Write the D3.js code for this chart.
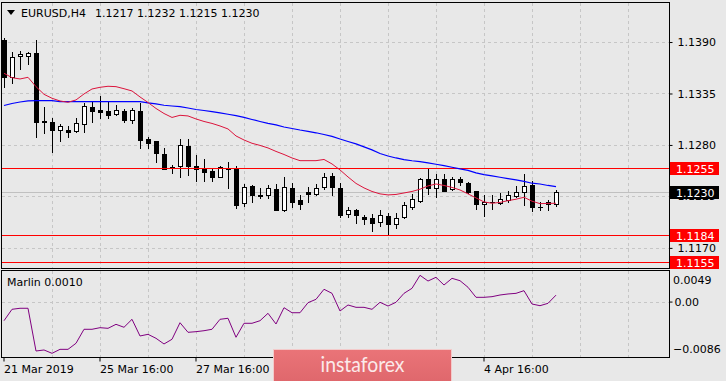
<!DOCTYPE html>
<html>
<head>
    <meta charset="utf-8" />
    <style>
        body { margin: 0; background: #e8e8e8; }
        svg { display: block; font-family: "DejaVu Sans", sans-serif; font-size: 11px; }
    </style>
</head>
<body>
    <svg></svg>
    <script src="https://cdnjs.cloudflare.com/ajax/libs/d3/7.8.5/d3.min.js"></script>
    <script>
        let width = 726,
            height = 381;

        // EURUSD H4 bars, first bar 21 Mar 2019 16:00
        let open = [1.1392, 1.1353, 1.1375, 1.1375, 1.1378, 1.1306, 1.1304, 1.1296, 1.1296, 1.1295,
            1.1302, 1.1321, 1.1317, 1.1316, 1.1313, 1.1316, 1.1307, 1.1316, 1.1286, 1.1284,
            1.1270, 1.1256, 1.1258, 1.1279, 1.1258, 1.1254, 1.1252, 1.1246, 1.1255, 1.1254,
            1.1218, 1.1236, 1.1225, 1.1227, 1.1233, 1.1210, 1.1234, 1.1221, 1.1230, 1.1228,
            1.1235, 1.1247, 1.1234, 1.1206, 1.1211, 1.1203, 1.1202, 1.1198, 1.1204, 1.1195,
            1.1203, 1.1214, 1.1220, 1.1244, 1.1234, 1.1244, 1.1233, 1.1244, 1.1239, 1.1231,
            1.1217, 1.1219, 1.1218, 1.1221, 1.1225, 1.1230, 1.1237, 1.1214, 1.1219, 1.1217];
        let high = [1.1394, 1.1379, 1.1380, 1.1379, 1.1392, 1.1321, 1.1309, 1.1302, 1.1300, 1.1309,
            1.1325, 1.1326, 1.1332, 1.1326, 1.1323, 1.1318, 1.1319, 1.1325, 1.1289, 1.1284,
            1.1277, 1.1259, 1.1286, 1.1286, 1.1269, 1.1265, 1.1254, 1.1258, 1.1262, 1.1258,
            1.1238, 1.1237, 1.1234, 1.1237, 1.1238, 1.1246, 1.1239, 1.1226, 1.1235, 1.1238,
            1.1250, 1.1250, 1.1239, 1.1214, 1.1212, 1.1205, 1.1206, 1.1211, 1.1207, 1.1207,
            1.1219, 1.1228, 1.1245, 1.1254, 1.1249, 1.1249, 1.1246, 1.1246, 1.1240, 1.1231,
            1.1226, 1.1226, 1.1229, 1.1231, 1.1236, 1.1249, 1.1242, 1.1219, 1.1221, 1.1232];
        let low = [1.1342, 1.1346, 1.1361, 1.1366, 1.1289, 1.1293, 1.1272, 1.1284, 1.1289, 1.1294,
            1.1294, 1.1304, 1.1309, 1.1309, 1.1312, 1.1305, 1.1303, 1.1277, 1.1277, 1.1262,
            1.1254, 1.1250, 1.1246, 1.1248, 1.1241, 1.1241, 1.1241, 1.1246, 1.1234, 1.1213,
            1.1215, 1.1219, 1.1223, 1.1223, 1.1211, 1.1209, 1.1214, 1.1212, 1.1219, 1.1226,
            1.1233, 1.1227, 1.1203, 1.1203, 1.1197, 1.1196, 1.1188, 1.1193, 1.1184, 1.1191,
            1.1202, 1.1212, 1.1219, 1.1228, 1.1224, 1.1231, 1.1232, 1.1237, 1.1229, 1.1212,
            1.1204, 1.1212, 1.1217, 1.1219, 1.1224, 1.1216, 1.1209, 1.1211, 1.1211, 1.1215];
        let close = [1.1353, 1.1374, 1.1377, 1.1378, 1.1305, 1.1304, 1.1296, 1.1300, 1.1294, 1.1303,
            1.1322, 1.1316, 1.1315, 1.1312, 1.1317, 1.1307, 1.1317, 1.1285, 1.1282, 1.1271,
            1.1254, 1.1256, 1.1280, 1.1258, 1.1254, 1.1251, 1.1246, 1.1256, 1.1254, 1.1216,
            1.1235, 1.1226, 1.1227, 1.1234, 1.1211, 1.1235, 1.1219, 1.1217, 1.1228, 1.1234,
            1.1246, 1.1235, 1.1205, 1.1211, 1.1205, 1.1201, 1.1197, 1.1205, 1.1196, 1.1202,
            1.1216, 1.1222, 1.1244, 1.1234, 1.1244, 1.1231, 1.1244, 1.1240, 1.1230, 1.1217,
            1.1219, 1.1219, 1.1222, 1.1227, 1.1230, 1.1236, 1.1214, 1.1214, 1.1217, 1.1230];

        // moving averages
        let fastMa = [1.13566, 1.13519, 1.13505, 1.13523, 1.13423, 1.13341, 1.13299, 1.13270, 1.13256, 1.13281,
            1.13345, 1.13398, 1.13416, 1.13427, 1.13423, 1.13401, 1.13377, 1.13313, 1.13254, 1.13190,
            1.13136, 1.13094, 1.13117, 1.13110, 1.13078, 1.13051, 1.13030, 1.13003, 1.12971, 1.12896,
            1.12853, 1.12818, 1.12795, 1.12768, 1.12731, 1.12698, 1.12661, 1.12632, 1.12632, 1.12632,
            1.12645, 1.12597, 1.12533, 1.12458, 1.12389, 1.12341, 1.12303, 1.12277, 1.12266, 1.12271,
            1.12287, 1.12303, 1.12327, 1.12362, 1.12383, 1.12367, 1.12346, 1.12319, 1.12277, 1.12234,
            1.12191, 1.12177, 1.12186, 1.12205, 1.12220, 1.12241, 1.12199, 1.12173, 1.12175, 1.12177];
        let slowMa = [1.13222, 1.13243, 1.13259, 1.13270, 1.13273, 1.13273, 1.13273, 1.13262, 1.13262, 1.13262,
            1.13262, 1.13262, 1.13262, 1.13262, 1.13262, 1.13262, 1.13262, 1.13262, 1.13249, 1.13238,
            1.13224, 1.13216, 1.13209, 1.13195, 1.13179, 1.13168, 1.13156, 1.13142, 1.13128, 1.13113,
            1.13094, 1.13072, 1.13051, 1.13030, 1.13014, 1.12992, 1.12976, 1.12960, 1.12946, 1.12930,
            1.12912, 1.12891, 1.12864, 1.12837, 1.12811, 1.12779, 1.12747, 1.12709, 1.12682, 1.12661,
            1.12643, 1.12631, 1.12622, 1.12608, 1.12594, 1.12579, 1.12562, 1.12544, 1.12528, 1.12501,
            1.12482, 1.12469, 1.12455, 1.12440, 1.12426, 1.12410, 1.12391, 1.12383, 1.12367, 1.12355];

        let marlin = [-0.00297, -0.00120, -0.00104, -0.00104, -0.00767, -0.00751, -0.00803, -0.00741, -0.00741, -0.00647,
            -0.00430, -0.00430, -0.00405, -0.00415, -0.00353, -0.00399, -0.00275, -0.00534, -0.00508, -0.00570,
            -0.00658, -0.00585, -0.00328, -0.00477, -0.00467, -0.00452, -0.00430, -0.00275, -0.00259, -0.00554,
            -0.00337, -0.00337, -0.00297, -0.00182, -0.00348, -0.00095, -0.00173, -0.00173, -0.00017, 0.00035,
            0.00191, 0.00128, -0.00146, -0.00053, -0.00089, -0.00089, -0.00120, -0.00011, -0.00069, -0.00011,
            0.00128, 0.00206, 0.00408, 0.00319, 0.00377, 0.00257, 0.00361, 0.00324, 0.00222, 0.00066,
            0.00066, 0.00076, 0.00102, 0.00118, 0.00128, 0.00169, -0.00038, -0.00064, -0.00027, 0.00100];

        // labels under the watermark (29 Mar, 2 Apr) are not visible, so only these
        let timeBars = [0, 12, 24, 60];
        let timeLabels = ["21 Mar 2019", "25 Mar 16:00", "27 Mar 16:00", "4 Apr 16:00"];
        let priceTicks = [1.1390, 1.1335, 1.1280, 1.1225, 1.1170];
        let levels = [1.1255, 1.1184, 1.1155];
        let lastPrice = 1.1230;
        let marlinMax = 0.0049,
            marlinMin = -0.0086;

        let left = 1.5, right = 669.5;
        let mainTop = 2.5, mainBottom = 268.5;
        let indTop = 270.5, indBottom = 357.5;

        let svg = d3.select("svg")
            .attr("width", width)
            .attr("height", height)
            .attr("viewBox", "0 0 " + width + " " + height);

        let x = d3.scaleLinear().domain([0, 69]).range([4, 556]);
        let y = d3.scaleLinear().domain([1.11485, 1.14317]).range([268, 3]);
        let yInd = d3.scaleLinear().domain([marlinMin, marlinMax]).range([357, 270]);

        svg.append("rect").attr("width", width).attr("height", height).attr("fill", "#e8e8e8");

        // grid
        let grid = svg.append("g")
            .attr("stroke", "#c6c6c6")
            .attr("stroke-dasharray", "3,3")
            .attr("shape-rendering", "crispEdges");
        d3.range(6, 79, 6).forEach((b) => {
            let gx = Math.round(x(b)) + 0.5;
            grid.append("line").attr("x1", gx).attr("x2", gx).attr("y1", mainTop).attr("y2", mainBottom);
            grid.append("line").attr("x1", gx).attr("x2", gx).attr("y1", indTop).attr("y2", indBottom);
        });
        priceTicks.forEach((p) => {
            let gy = Math.round(y(p)) + 0.5;
            grid.append("line").attr("x1", left).attr("x2", right).attr("y1", gy).attr("y2", gy);
        });
        grid.append("line").attr("x1", left).attr("x2", right)
            .attr("y1", Math.round(yInd(0)) + 0.5).attr("y2", Math.round(yInd(0)) + 0.5);

        // last price line
        svg.append("line")
            .attr("x1", left).attr("x2", right)
            .attr("y1", Math.round(y(lastPrice)) + 0.5).attr("y2", Math.round(y(lastPrice)) + 0.5)
            .attr("stroke", "#c0c0c0")
            .attr("shape-rendering", "crispEdges");

        // candles
        let candles = svg.append("g").attr("shape-rendering", "crispEdges");
        close.forEach((c, i) => {
            let cx = Math.round(x(i));
            let o = open[i];
            candles.append("line")
                .attr("x1", cx + 0.5).attr("x2", cx + 0.5)
                .attr("y1", Math.round(y(high[i]))).attr("y2", Math.round(y(low[i])) + 1)
                .attr("stroke", "#000");
            let top = Math.round(y(Math.max(o, c)));
            let bot = Math.round(y(Math.min(o, c)));
            if (bot - top < 1) {
                candles.append("line")
                    .attr("x1", cx - 2).attr("x2", cx + 3)
                    .attr("y1", top + 0.5).attr("y2", top + 0.5)
                    .attr("stroke", "#000");
            } else {
                candles.append("rect")
                    .attr("x", cx - 1.5).attr("y", top + 0.5)
                    .attr("width", 4).attr("height", bot - top)
                    .attr("fill", c >= o ? "#fff" : "#000")
                    .attr("stroke", "#000");
            }
        });

        // horizontal levels
        levels.forEach((p) => {
            let ly = Math.round(y(p)) + 0.5;
            svg.append("line")
                .attr("x1", left).attr("x2", right).attr("y1", ly).attr("y2", ly)
                .attr("stroke", "#f00")
                .attr("shape-rendering", "crispEdges");
        });

        // moving averages
        let maLine = d3.line().x((d, i) => x(i)).y((d) => y(d));
        svg.append("path").attr("d", maLine(slowMa))
            .attr("fill", "none").attr("stroke", "#0000ff").attr("stroke-width", 1.2);
        svg.append("path").attr("d", maLine(fastMa))
            .attr("fill", "none").attr("stroke", "#dc143c").attr("stroke-width", 1);

        // marlin
        let indLine = d3.line().x((d, i) => x(i)).y((d) => yInd(d));
        svg.append("path").attr("d", indLine(marlin))
            .attr("fill", "none").attr("stroke", "#800080").attr("stroke-width", 1);

        // frames
        let frames = svg.append("g").attr("fill", "none").attr("stroke", "#000").attr("shape-rendering", "crispEdges");
        frames.append("rect").attr("x", left).attr("y", mainTop).attr("width", right - left).attr("height", mainBottom - mainTop);
        frames.append("rect").attr("x", left).attr("y", indTop).attr("width", right - left).attr("height", indBottom - indTop);

        // price axis
        let priceAxis = svg.append("g")
            .attr("transform", "translate(" + right + ",0)")
            .call(d3.axisRight(y).tickValues(priceTicks).tickFormat(d3.format(".4f")).tickSize(3).tickPadding(5));
        priceAxis.select(".domain").remove();
        priceAxis.selectAll("text").attr("fill", "#000").style("font-size", "11px").style("font-family", "DejaVu Sans");

        // price boxes
        let boxes = levels.map((p) => ({ v: p, fill: "#f00" })).concat([{ v: lastPrice, fill: "#000" }]);
        boxes.forEach((b) => {
            let by = y(b.v) + 1;
            svg.append("rect")
                .attr("x", 670).attr("y", Math.round(by - 7))
                .attr("width", 49).attr("height", 13)
                .attr("fill", b.fill);
            svg.append("text")
                .attr("x", 676).attr("y", by).attr("dy", "0.35em")
                .attr("fill", "#fff")
                .text(d3.format(".4f")(b.v));
        });

        // marlin axis
        let indAxis = svg.append("g")
            .attr("transform", "translate(" + right + ",0)")
            .call(d3.axisRight(yInd).tickValues([0]).tickFormat(d3.format(".2f")).tickSize(3).tickPadding(2));
        indAxis.select(".domain").remove();
        indAxis.selectAll("text").attr("fill", "#000").style("font-size", "11px").style("font-family", "DejaVu Sans");
        svg.append("text").attr("x", 673).attr("y", yInd(marlinMax) + 10).attr("dy", "0.35em")
            .text(d3.format(".4f")(marlinMax));
        svg.append("text").attr("x", 673).attr("y", yInd(marlinMin) - 8).attr("dy", "0.35em")
            .text(d3.format(".4f")(marlinMin));

        // time axis
        let timeAxis = svg.append("g")
            .attr("transform", "translate(-0.5," + indBottom + ")")
            .call(d3.axisBottom(x).tickValues(timeBars).tickFormat((d, i) => timeLabels[i]).tickSize(4));
        timeAxis.select(".domain").remove();
        timeAxis.selectAll("text")
            .attr("text-anchor", "start")
            .attr("x", 0).attr("y", 15.5).attr("dy", null)
            .attr("fill", "#000")
            .style("font-size", "11px").style("font-family", "DejaVu Sans");

        // title and indicator label
        svg.append("path").attr("d", "M7,10L15,10L11,15Z").attr("fill", "#000");
        svg.append("text").attr("x", 21).attr("y", 17).text("EURUSD,H4");
        svg.append("text").attr("x", 95).attr("y", 17)
            .text([open[69], high[69], low[69], close[69]].map(d3.format(".4f")).join(" "));
        svg.append("text").attr("x", 7).attr("y", 286).text("Marlin " + d3.format(".4f")(marlin[69]));

        // watermark
        let grad = svg.append("defs").append("linearGradient")
            .attr("id", "logo").attr("x1", 0).attr("x2", 0).attr("y1", 0).attr("y2", 1);
        grad.append("stop").attr("offset", "0%").attr("stop-color", "#ea7478");
        grad.append("stop").attr("offset", "100%").attr("stop-color", "#df676c");
        svg.append("rect")
            .attr("x", 273.5).attr("y", 349.5).attr("width", 178).attr("height", 33)
            .attr("fill", "url(#logo)").attr("stroke", "#f3caca");
        svg.append("text")
            .attr("x", 362.5).attr("y", 371.5)
            .attr("text-anchor", "middle")
            .attr("textLength", 84).attr("lengthAdjust", "spacingAndGlyphs")
            .style("font-family", "Lato, 'Open Sans', sans-serif")
            .style("font-size", "21px")
            .attr("fill", "#fbeaea")
            .text("instaforex");
    </script>
</body>
</html>
